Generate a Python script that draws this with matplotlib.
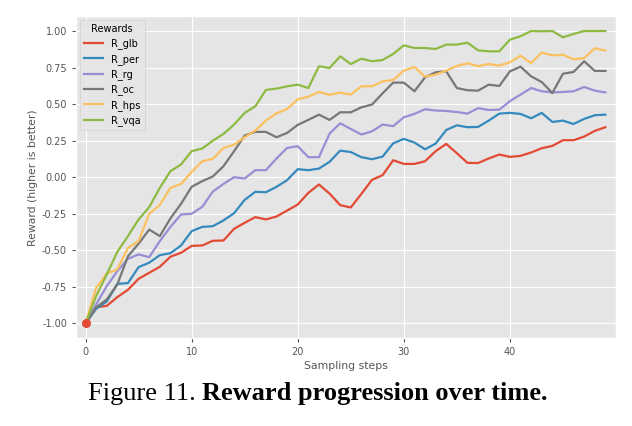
import matplotlib
matplotlib.use("Agg")
import matplotlib.pyplot as plt
import numpy as np

plt.style.use("ggplot")

steps = list(range(50))

R_glb = [-1.0, -0.89, -0.88, -0.82, -0.77, -0.695, -0.654, -0.613, -0.544, -0.517,
         -0.47, -0.467, -0.435, -0.433, -0.353, -0.312, -0.273, -0.289, -0.269, -0.228,
         -0.187, -0.107, -0.05, -0.112, -0.191, -0.207, -0.114, -0.018, 0.014, 0.116,
         0.091, 0.091, 0.109, 0.178, 0.228, 0.164, 0.098, 0.097, 0.128, 0.155,
         0.139, 0.146, 0.169, 0.198, 0.214, 0.253, 0.253, 0.278, 0.317, 0.342]
R_per = [-1.0, -0.90, -0.85, -0.73, -0.724, -0.615, -0.585, -0.533, -0.52, -0.467,
         -0.369, -0.34, -0.335, -0.296, -0.246, -0.155, -0.10, -0.103, -0.066, -0.02,
         0.055, 0.048, 0.059, 0.105, 0.182, 0.172, 0.137, 0.123, 0.141, 0.232,
         0.262, 0.237, 0.191, 0.23, 0.323, 0.355, 0.342, 0.344, 0.387, 0.435,
         0.44, 0.433, 0.403, 0.44, 0.378, 0.387, 0.364, 0.399, 0.424, 0.428]
R_rg = [-1.0, -0.87, -0.745, -0.642, -0.558, -0.528, -0.547, -0.437, -0.34, -0.255,
        -0.25, -0.203, -0.098, -0.046, 0.0, -0.009, 0.048, 0.048, 0.128, 0.20,
        0.212, 0.137, 0.137, 0.298, 0.369, 0.330, 0.292, 0.314, 0.36, 0.349,
        0.41, 0.433, 0.465, 0.456, 0.453, 0.446, 0.435, 0.472, 0.46, 0.462,
        0.52, 0.565, 0.61, 0.588, 0.58, 0.583, 0.588, 0.617, 0.592, 0.58]
R_oc = [-1.0, -0.89, -0.836, -0.733, -0.54, -0.455, -0.358, -0.403, -0.282, -0.182,
        -0.066, -0.027, 0.005, 0.075, 0.178, 0.285, 0.31, 0.31, 0.273, 0.303,
        0.358, 0.392, 0.428, 0.392, 0.444, 0.444, 0.478, 0.497, 0.574, 0.647,
        0.647, 0.588, 0.683, 0.718, 0.724, 0.61, 0.595, 0.592, 0.633, 0.624,
        0.724, 0.756, 0.69, 0.651, 0.576, 0.708, 0.72, 0.793, 0.727, 0.727]
R_hps = [-1.0, -0.756, -0.66, -0.63, -0.483, -0.437, -0.25, -0.19, -0.073, -0.046,
         0.036, 0.109, 0.126, 0.20, 0.223, 0.273, 0.319, 0.387, 0.437, 0.467,
         0.533, 0.551, 0.583, 0.563, 0.579, 0.565, 0.622, 0.622, 0.656, 0.665,
         0.729, 0.754, 0.688, 0.702, 0.729, 0.761, 0.779, 0.760, 0.774, 0.763,
         0.786, 0.831, 0.781, 0.852, 0.834, 0.838, 0.806, 0.815, 0.882, 0.866]
R_vqa = [-1.0, -0.813, -0.665, -0.51, -0.403, -0.289, -0.205, -0.073, 0.041, 0.087,
         0.178, 0.196, 0.25, 0.296, 0.36, 0.44, 0.485, 0.597, 0.606, 0.622,
         0.633, 0.61, 0.759, 0.747, 0.827, 0.774, 0.811, 0.793, 0.802, 0.843,
         0.902, 0.884, 0.884, 0.877, 0.907, 0.907, 0.92, 0.868, 0.861, 0.861,
         0.941, 0.964, 1.0, 0.998, 1.0, 0.957, 0.98, 1.0, 1.0, 1.0]

series_names = ["R_glb", "R_per", "R_rg", "R_oc", "R_hps", "R_vqa"]
series_values = [R_glb, R_per, R_rg, R_oc, R_hps, R_vqa]

start_x = [0]
start_y = [-1.0]

fig = plt.figure(figsize=(6.32, 4.26), dpi=100)
fig.patch.set_facecolor("white")
ax = fig.add_axes([76 / 632, 1 - 338 / 426, (616 - 76) / 632, (338 - 16.4) / 426])

for name, vals in zip(series_names, series_values):
    ax.plot(steps, vals, label=name, linewidth=1.6)

ax.plot(start_x, start_y, "o", color="#E24A33", markersize=5.5, zorder=5)

ax.set_xlim(-0.9, 50)
ax.set_ylim(-1.1, 1.1)
ax.set_xticks([0, 10, 20, 30, 40])
ax.set_yticks([-1.0, -0.75, -0.5, -0.25, 0.0, 0.25, 0.5, 0.75, 1.0])
ax.yaxis.set_major_formatter(matplotlib.ticker.FormatStrFormatter("%.2f"))
ax.tick_params(labelsize=7, colors="#555555", length=3)
ax.set_xlabel("Sampling steps", fontsize=7.8, color="#555555", labelpad=3)
ax.set_ylabel("Reward (higher is better)", fontsize=7.8, color="#555555", labelpad=3)

leg = ax.legend(title="Rewards", loc="upper left", fontsize=7, title_fontsize=7,
                frameon=True, borderaxespad=0.4, labelspacing=0.45,
                handlelength=2.0)

t1 = fig.text(88 / 632, 1 - 400 / 426, "Figure 11. ", fontsize=19,
              family="Liberation Serif", ha="left", va="baseline")
ax.annotate("Reward progression over time.", xy=(1, 0), xycoords=t1,
            fontsize=19, family="Liberation Serif", fontweight="bold",
            ha="left", va="bottom", annotation_clip=False)

fig.savefig("out.png", dpi=100, facecolor="white")
